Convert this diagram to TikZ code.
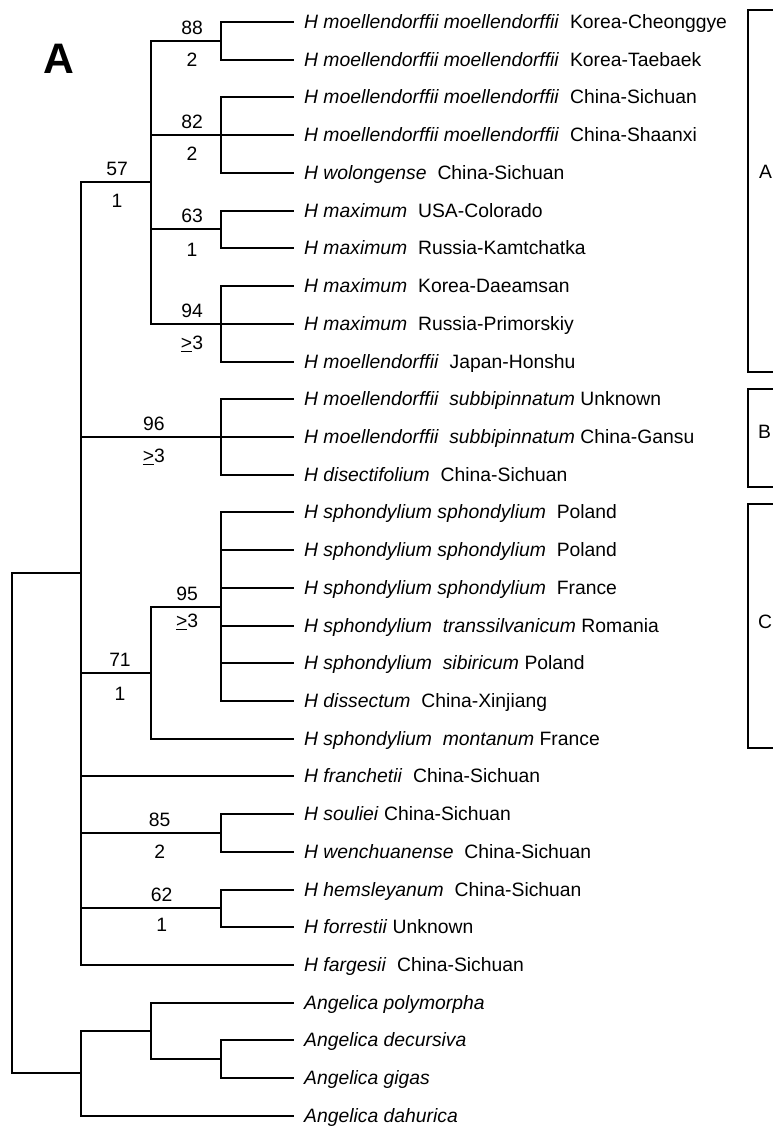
\documentclass[tikz,border=0pt]{standalone}
\usepackage{fontspec}
\setmainfont{Liberation Sans}
\newcommand\dsp{\hspace{0.56em}}
\begin{document}
\begin{tikzpicture}[x=0.75pt,y=-0.75pt,line width=1.75pt,line cap=rect,
  txt/.style={font=\fontsize{14.5}{17}\selectfont},
  leaf/.style={txt,anchor=west,inner xsep=7.5pt,inner ysep=0pt,text height=10.4pt,text depth=0pt},
  bsa/.style={txt,above,pos=0.75,inner xsep=0pt,inner ysep=4.1pt,text height=10.4pt,text depth=0pt},
  bsb/.style={txt,below,pos=0.75,inner xsep=0pt,inner ysep=7.5pt,text height=10.4pt,text depth=0pt},
  brl/.style={txt,anchor=west,inner sep=0pt,text height=10.4pt,text depth=0pt},
  bracket/.style={line width=1.6pt,line cap=butt,line join=miter}]
\useasboundingbox (0,0) rectangle (773,1126);

% panel letter
\node[font=\fontsize{32}{36}\selectfont\bfseries,inner sep=0pt,text height=23pt,text depth=0pt] (panel) at (59,58.5) {A};

% internal nodes
\coordinate (root) at (12,573);
\coordinate (ing) at (81,573);
\coordinate (out) at (81,1073);
\coordinate (n57) at (151,182);
\coordinate (n88) at (221,41);
\coordinate (n82) at (221,135);
\coordinate (n63) at (221,229);
\coordinate (n94) at (221,324);
\coordinate (n96) at (221,437);
\coordinate (n71) at (151,673);
\coordinate (n95) at (221,607);
\coordinate (n85) at (221,833);
\coordinate (n62) at (221,908);
\coordinate (npoly) at (151,1031);
\coordinate (ndg) at (221,1059);

% leaves
\node[leaf] (l1) at (293,22) {\textit{H moellendorffii moellendorffii}\dsp Korea-Cheonggye};
\node[leaf] (l2) at (293,60) {\textit{H moellendorffii moellendorffii}\dsp Korea-Taebaek};
\node[leaf] (l3) at (293,97) {\textit{H moellendorffii moellendorffii}\dsp China-Sichuan};
\node[leaf] (l4) at (293,135) {\textit{H moellendorffii moellendorffii}\dsp China-Shaanxi};
\node[leaf] (l5) at (293,173) {\textit{H wolongense}\dsp China-Sichuan};
\node[leaf] (l6) at (293,211) {\textit{H maximum}\dsp USA-Colorado};
\node[leaf] (l7) at (293,248) {\textit{H maximum}\dsp Russia-Kamtchatka};
\node[leaf] (l8) at (293,286) {\textit{H maximum}\dsp Korea-Daeamsan};
\node[leaf] (l9) at (293,324) {\textit{H maximum}\dsp Russia-Primorskiy};
\node[leaf] (l10) at (293,362) {\textit{H moellendorffii}\dsp Japan-Honshu};
\node[leaf] (l11) at (293,399) {\textit{H moellendorffii\dsp subbipinnatum} Unknown};
\node[leaf] (l12) at (293,437) {\textit{H moellendorffii\dsp subbipinnatum} China-Gansu};
\node[leaf] (l13) at (293,475) {\textit{H disectifolium}\dsp China-Sichuan};
\node[leaf] (l14) at (293,512) {\textit{H sphondylium sphondylium}\dsp Poland};
\node[leaf] (l15) at (293,550) {\textit{H sphondylium sphondylium}\dsp Poland};
\node[leaf] (l16) at (293,588) {\textit{H sphondylium sphondylium}\dsp France};
\node[leaf] (l17) at (293,626) {\textit{H sphondylium\dsp transsilvanicum} Romania};
\node[leaf] (l18) at (293,663) {\textit{H sphondylium\dsp sibiricum} Poland};
\node[leaf] (l19) at (293,701) {\textit{H dissectum}\dsp China-Xinjiang};
\node[leaf] (l20) at (293,739) {\textit{H sphondylium\dsp montanum} France};
\node[leaf] (l21) at (293,776) {\textit{H franchetii}\dsp China-Sichuan};
\node[leaf] (l22) at (293,814) {\textit{H souliei} China-Sichuan};
\node[leaf] (l23) at (293,852) {\textit{H wenchuanense}\dsp China-Sichuan};
\node[leaf] (l24) at (293,890) {\textit{H hemsleyanum}\dsp China-Sichuan};
\node[leaf] (l25) at (293,927) {\textit{H forrestii} Unknown};
\node[leaf] (l26) at (293,965) {\textit{H fargesii}\dsp China-Sichuan};
\node[leaf] (l27) at (293,1003) {\textit{Angelica polymorpha}};
\node[leaf] (l28) at (293,1040) {\textit{Angelica decursiva}};
\node[leaf] (l29) at (293,1078) {\textit{Angelica gigas}};
\node[leaf] (l30) at (293,1116) {\textit{Angelica dahurica}};

% branches
\draw (root) |- (ing);
\draw (root) |- (out);

\draw (ing) |- node[bsa,xshift=0.8pt]{57} node[bsb,xshift=0.8pt]{1} (n57);
\draw (ing) |- node[bsa,xshift=2.2pt]{96} node[bsb,xshift=2.2pt]{\underline{>}3} (n96);
\draw (ing) |- node[bsa,xshift=3pt]{71} node[bsb,xshift=3pt,yshift=-1.5pt]{1} (n71);
\draw (ing) |- (l21);
\draw (ing) |- node[bsa,xshift=6.5pt]{85} node[bsb,xshift=6.5pt]{2} (n85);
\draw (ing) |- node[bsa,xshift=8pt]{62} node[bsb,xshift=8pt,yshift=1.5pt]{1} (n62);
\draw (ing) |- (l26);

\draw (n57) |- node[bsa,xshift=4.5pt]{88} node[bsb,xshift=4.5pt]{2} (n88);
\draw (n57) |- node[bsa,xshift=4.5pt]{82} node[bsb,xshift=4.5pt]{2} (n82);
\draw (n57) |- node[bsa,xshift=4.5pt]{63} node[bsb,xshift=4.5pt,yshift=-1.5pt]{1} (n63);
\draw (n57) |- node[bsa,xshift=4.5pt]{94} node[bsb,xshift=4.5pt]{\underline{>}3} (n94);

\draw (n88) |- (l1);
\draw (n88) |- (l2);
\draw (n82) |- (l3);
\draw (n82) |- (l4);
\draw (n82) |- (l5);
\draw (n63) |- (l6);
\draw (n63) |- (l7);
\draw (n94) |- (l8);
\draw (n94) |- (l9);
\draw (n94) |- (l10);
\draw (n96) |- (l11);
\draw (n96) |- (l12);
\draw (n96) |- (l13);

\draw (n71) |- node[bsa,xshift=0.8pt]{95} node[bsb,xshift=0.8pt,yshift=3.5pt]{\underline{>}3} (n95);
\draw (n71) |- (l20);
\foreach \k in {14,...,19} {\draw (n95) |- (l\k);}

\draw (n85) |- (l22);
\draw (n85) |- (l23);
\draw (n62) |- (l24);
\draw (n62) |- (l25);

\draw (out) |- (npoly);
\draw (out) |- (l30);
\draw (npoly) |- (l27);
\draw (npoly) |- (ndg);
\draw (ndg) |- (l28);
\draw (ndg) |- (l29);

% clade brackets
\draw[bracket] (776,10) -- (748,10) -- (748,372) -- (776,372);
\draw[bracket] (776,389) -- (748,389) -- (748,487) -- (776,487);
\draw[bracket] (776,504) -- (748,504) -- (748,748) -- (776,748);
\node[brl] (cA) at (758,172) {A};
\node[brl] (cB) at (757,432) {B};
\node[brl] (cC) at (757,622) {C};
\end{tikzpicture}
\end{document}
